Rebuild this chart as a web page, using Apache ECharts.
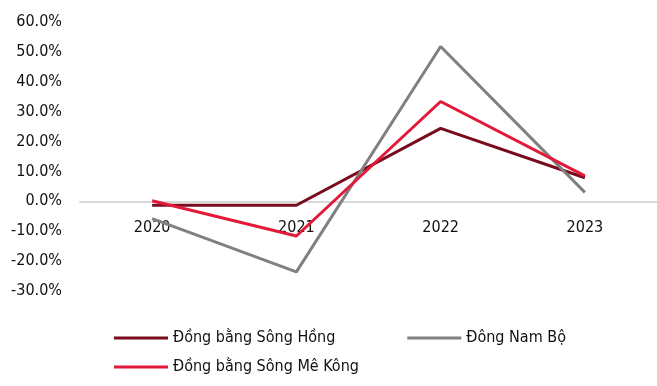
<!DOCTYPE html>
<html><head><meta charset="utf-8">
<script src="https://cdn.jsdelivr.net/npm/echarts@6/dist/echarts.min.js"></script>
<style>html,body{margin:0;padding:0;background:#fff}#c{width:657px;height:386px}</style>
</head><body><div id="c"></div>
<script>
const categories = ['2020', '2021', '2022', '2023'];
const seriesNames = ['Đồng bằng Sông Hồng', 'Đông Nam Bộ', 'Đồng bằng Sông Mê Kông'];
const songHong = [-1.3, -1.3, 24.4, 7.9];
const dongNamBo = [-5.8, -23.6, 51.8, 3.0];
const meKong = [0.2, -11.6, 33.4, 8.5];
const yTicks = { min: -30, max: 60, interval: 10 };
const colors = ['#780c1e', '#808080', '#e3193a'];

const FONT = "'DejaVu Sans Condensed', 'Liberation Sans', Arial, sans-serif";
const chart = echarts.init(document.getElementById('c'));
const lineSeries = (name, data, color) => ({
  name, type: 'line', data, symbol: 'none', smooth: false,
  lineStyle: { color, width: 3 }, itemStyle: { color }
});
const gridTop = 22, gridBottom = 95, H = 386;
const plotH = H - gridTop - gridBottom;
const zeroOffset = -plotH * (0 - yTicks.min) / (yTicks.max - yTicks.min);
const legendText = { fontSize: 16, color: '#111', fontFamily: FONT, padding: [0, 0, 0, 0] };
chart.setOption({
  animation: false,
  textStyle: { fontFamily: FONT },
  grid: { left: 80, right: -7, top: gridTop, bottom: gridBottom, containLabel: false },
  xAxis: {
    type: 'category', data: categories, boundaryGap: true, offset: zeroOffset,
    axisLine: { onZero: false, lineStyle: { color: '#d9d9d9', width: 2 } },
    axisTick: { show: false },
    axisLabel: { color: '#111', fontSize: 16, margin: 19, fontFamily: FONT }
  },
  yAxis: {
    type: 'value', min: yTicks.min, max: yTicks.max, interval: yTicks.interval,
    splitLine: { show: false }, axisLine: { show: false }, axisTick: { show: false },
    axisLabel: { color: '#111', fontSize: 16, margin: 18, fontFamily: FONT,
      formatter: v => v.toFixed(1) + '%' }
  },
  legend: [
    { data: [seriesNames[0], seriesNames[1]], left: 114, top: 330, padding: 0, itemWidth: 54, itemHeight: 3,
      icon: 'rect', itemGap: 72, textStyle: legendText },
    { data: [seriesNames[2]], left: 114, top: 359, padding: 0, itemWidth: 54, itemHeight: 3,
      icon: 'rect', textStyle: legendText }
  ],
  series: [
    lineSeries(seriesNames[0], songHong, colors[0]),
    lineSeries(seriesNames[1], dongNamBo, colors[1]),
    lineSeries(seriesNames[2], meKong, colors[2])
  ]
});
</script></body></html>
